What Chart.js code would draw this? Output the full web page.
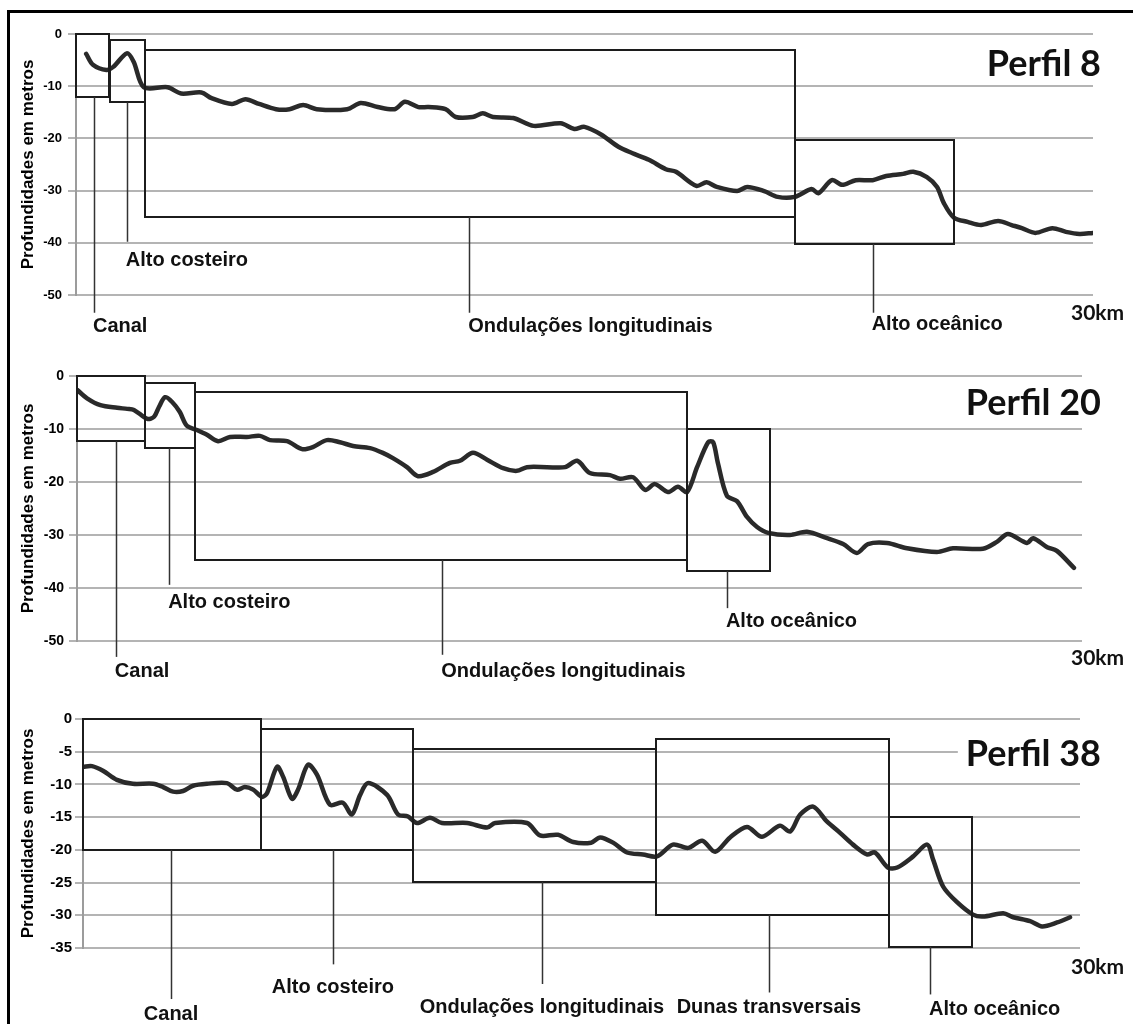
<!DOCTYPE html>
<html><head><meta charset="utf-8">
<script src="https://cdn.jsdelivr.net/npm/chart.js@4.4.0/dist/chart.umd.min.js"></script>
<style>
html,body{margin:0;padding:0;background:#fff;}
#wrap{position:relative;width:1133px;height:1024px;overflow:hidden;background:#fff;}
#frame{position:absolute;left:7px;top:10px;width:1140px;height:1040px;border-top:3px solid #000;border-left:3px solid #000;}
canvas{position:absolute;left:0;}
</style></head><body>
<div id="wrap">
<div id="frame"></div>
<canvas id="c8" width="1133" height="345" style="top:0px"></canvas>
<canvas id="c20" width="1133" height="350" style="top:340px"></canvas>
<canvas id="c38" width="1133" height="344" style="top:680px"></canvas>
</div>
<script>
// ---------- Perfil 8 ----------
const perfil8Km = [0.3,0.5,0.9,1.1,1.5,1.7,2.0,2.7,3.1,3.7,4.0,4.6,5.0,5.4,5.9,6.3,6.7,7.1,8.0,8.4,8.9,9.4,9.7,10.1,10.4,10.9,11.2,11.7,12.0,12.3,12.9,13.5,14.3,14.7,15.0,15.5,16.0,16.4,16.9,17.4,17.7,18.3,18.6,18.9,19.5,19.8,20.3,20.7,21.2,21.7,21.9,22.3,22.6,23.0,23.5,23.9,24.4,24.7,25.1,25.4,25.6,25.9,26.3,26.7,27.2,27.6,27.9,28.3,28.8,29.2,29.6,30.0];
const perfil8Depth = [-3.8,-5.9,-6.9,-6.3,-3.7,-5.3,-10.2,-10.2,-11.4,-11.2,-12.3,-13.4,-12.5,-13.4,-14.4,-14.4,-13.6,-14.4,-14.4,-13.2,-14.0,-14.4,-13.0,-14.0,-14.0,-14.4,-15.9,-15.9,-15.2,-15.9,-16.1,-17.6,-17.1,-18.2,-17.8,-19.3,-21.6,-22.8,-24.1,-25.9,-26.4,-29.1,-28.4,-29.3,-30.1,-29.3,-30.1,-31.2,-31.2,-29.7,-30.5,-28.0,-28.9,-28.0,-28.0,-27.2,-26.8,-26.4,-27.4,-29.3,-32.4,-35.2,-36.0,-36.6,-35.8,-36.6,-37.2,-38.1,-37.2,-37.9,-38.3,-38.1];
const perfil8Regions = ['Canal','Alto costeiro','Ondulações longitudinais','Alto oceânico'];
const perfil8BoxStart = [0, 1.0, 2.04, 21.2];
const perfil8BoxEnd = [0.97, 2.04, 21.2, 25.9];
const perfil8BoxTop = [0, -1.1, -3.1, -20.3];
const perfil8BoxBottom = [-12.1, -13.1, -35.0, -40.2];
const perfil8LeaderKm = [0.53, 1.5, 11.6, 23.5];
const perfil8LeaderEnd = [-53.4, -39.8, -53.4, -53.4];
const perfil8LabelDepth = [-56.1, -43.3, -56.1, -55.7];
const perfil8Ticks = [0,-10,-20,-30,-40,-50];

// ---------- Perfil 20 ----------
const perfil20Km = [0.0,0.3,0.7,1.2,1.5,1.7,2.1,2.3,2.45,2.63,2.84,3.07,3.28,3.58,3.88,4.21,4.57,5.07,5.46,5.76,6.27,6.72,7.04,7.46,7.85,8.24,8.75,9.13,9.43,9.85,10.18,10.63,11.13,11.43,11.82,12.24,12.72,13.13,13.43,14.03,14.57,14.93,15.31,15.91,16.21,16.6,16.96,17.25,17.64,17.94,18.21,18.51,18.84,18.99,19.13,19.4,19.7,20.0,20.3,20.63,21.28,21.79,22.39,22.87,23.28,23.61,24.18,24.78,25.67,26.15,27.04,27.46,27.79,28.36,28.54,28.96,29.25,29.76];
const perfil20Depth = [-2.6,-4.2,-5.5,-6.0,-6.2,-6.4,-8.1,-7.7,-5.8,-4.0,-4.9,-6.8,-9.4,-10.2,-11.1,-12.3,-11.5,-11.5,-11.3,-12.1,-12.3,-13.8,-13.4,-12.1,-12.5,-13.2,-13.6,-14.5,-15.5,-17.2,-18.9,-18.1,-16.4,-16.0,-14.5,-15.8,-17.4,-17.9,-17.2,-17.2,-17.2,-16.0,-18.3,-18.7,-19.4,-19.1,-21.5,-20.4,-21.9,-20.9,-21.9,-17.2,-12.5,-12.5,-16.4,-22.6,-23.6,-26.6,-28.5,-29.6,-30.0,-29.4,-30.6,-31.7,-33.4,-31.7,-31.5,-32.5,-33.2,-32.5,-32.6,-31.3,-29.8,-31.5,-30.6,-32.3,-33.0,-36.2];
const perfil20Regions = ['Canal','Alto costeiro','Ondulações longitudinais','Alto oceânico'];
const perfil20BoxStart = [0, 2.03, 3.52, 18.21];
const perfil20BoxEnd = [2.03, 3.52, 18.21, 20.69];
const perfil20BoxTop = [0, -1.3, -3.0, -10.0];
const perfil20BoxBottom = [-12.3, -13.6, -34.7, -36.8];
const perfil20LeaderKm = [1.16, 2.75, 10.9, 19.4];
const perfil20LeaderEnd = [-53.0, -39.4, -52.6, -43.8];
const perfil20LabelDepth = [-55.8, -42.8, -55.8, -46.4];

// ---------- Perfil 38 ----------
const perfil38Km = [0,0.27,0.6,1.02,1.5,2.11,2.41,2.71,3.01,3.31,3.73,4.33,4.63,4.87,5.12,5.39,5.54,5.84,6.02,6.29,6.47,6.77,7.04,7.43,7.82,8.09,8.34,8.58,9.15,9.48,9.78,10.05,10.44,10.8,11.56,12.16,12.4,13.36,13.75,14.29,14.75,15.29,15.56,15.95,16.37,16.85,17.27,17.75,18.21,18.63,19.02,19.47,19.98,20.43,20.97,21.28,21.58,21.97,22.39,22.78,23.17,23.59,23.83,24.22,24.5,24.98,25.4,25.58,25.88,26.3,26.78,27.08,27.69,27.99,28.5,28.86,29.31,29.7];
const perfil38Depth = [-7.3,-7.2,-7.9,-9.3,-9.9,-9.9,-10.4,-11.1,-11.0,-10.2,-9.9,-9.8,-10.8,-10.4,-10.8,-11.9,-11.3,-7.3,-8.8,-12.2,-10.8,-7.0,-8.5,-13.1,-12.8,-14.6,-11.6,-9.8,-11.6,-14.6,-14.9,-15.9,-15.1,-15.9,-15.9,-16.6,-15.9,-15.9,-17.8,-17.7,-18.8,-18.9,-18.1,-18.9,-20.4,-20.7,-21.0,-19.2,-19.7,-18.6,-20.3,-18.1,-16.5,-18.0,-16.3,-17.2,-14.6,-13.4,-15.7,-17.4,-19.2,-20.7,-20.4,-22.7,-22.7,-21.0,-19.2,-21.5,-25.6,-28.0,-29.9,-30.2,-29.7,-30.3,-30.9,-31.7,-31.1,-30.3];
const perfil38Regions = ['Canal','Alto costeiro','Ondulações longitudinais','Dunas transversais','Alto oceânico'];
const perfil38BoxStart = [0, 5.36, 9.93, 17.24, 24.26];
const perfil38BoxEnd = [5.36, 9.93, 17.24, 24.26, 26.75];
const perfil38BoxTop = [0, -1.5, -4.6, -3.0, -15.0];
const perfil38BoxBottom = [-20, -20, -24.9, -29.9, -34.8];
const perfil38LeaderKm = [2.65, 7.52, 13.81, 20.64, 25.49];
const perfil38LeaderEnd = [-42.8, -37.5, -40.5, -41.8, -42.1];
const perfil38LabelDepth = [-45.1, -41.0, -44.1, -44.1, -44.4];

const axisTitle = 'Profundidades em metros';
const distanceLabel = '30km';

const annotPlugin = {
  id: 'annot',
  afterDraw(chart, args, o) {
    const {ctx, scales: {x, y}} = chart;
    ctx.save();
    // boxes
    ctx.strokeStyle = '#1c1c1c';
    ctx.lineWidth = 2;
    for (let i = 0; i < o.start.length; i++) {
      const x0 = Math.round(x.getPixelForValue(o.start[i]));
      const x1 = Math.round(x.getPixelForValue(o.end[i]));
      const y0 = Math.round(y.getPixelForValue(o.top[i]));
      const y1 = Math.round(y.getPixelForValue(o.bottom[i]));
      ctx.strokeRect(x0, y0, x1 - x0, y1 - y0);
    }
    // leaders
    ctx.strokeStyle = '#333';
    ctx.lineWidth = 1.5;
    for (let i = 0; i < o.leaderKm.length; i++) {
      const lx = Math.round(x.getPixelForValue(o.leaderKm[i])) + 0.5;
      ctx.beginPath();
      ctx.moveTo(lx, y.getPixelForValue(o.bottom[i]));
      ctx.lineTo(lx, y.getPixelForValue(o.leaderEnd[i]));
      ctx.stroke();
    }
    // labels
    ctx.fillStyle = '#111';
    ctx.font = 'bold 20px "Liberation Sans", Arial, sans-serif';
    ctx.textBaseline = 'middle';
    for (let i = 0; i < o.names.length; i++) {
      ctx.textAlign = o.align[i];
      ctx.fillText(o.names[i], x.getPixelForValue(o.leaderKm[i]) + (o.align[i] === 'left' ? -1 : 0), y.getPixelForValue(o.labelDepth[i]));
    }
    // title
    ctx.font = 'bold 36px Lato, "Open Sans", sans-serif';
    ctx.textAlign = 'right';
    const tw = ctx.measureText(o.title).width;
    const ty = y.getPixelForValue(o.titleDepth);
    ctx.fillStyle = '#fff';
    ctx.fillRect(chart.width - 32 - tw - 8, ty - 20, tw + 8, 40);
    ctx.fillStyle = '#111';
    ctx.fillText(o.title, chart.width - 32, ty + 1);
    // distance label
    ctx.font = 'bold 21px Lato, "Open Sans", sans-serif';
    ctx.textAlign = 'left';
    ctx.fillText(distanceLabel, chart.width - 62, chart.chartArea.bottom + o.distOffset);
    ctx.restore();
  }
};

function makePanel(id, km, depth, cfg) {
  const canvas = document.getElementById(id);
  const W = canvas.width, H = canvas.height;
  const pts = km.map((v, i) => ({x: v, y: depth[i]}));
  return new Chart(canvas, {
    type: 'line',
    data: {datasets: [{data: pts, borderColor: '#2a2a2a', borderWidth: 4.5, pointRadius: 0, tension: 0.3, fill: false, borderCapStyle: 'round', borderJoinStyle: 'round'}]},
    options: {
      responsive: false,
      animation: false,
      events: [],
      layout: {padding: {left: 0, top: cfg.area.top, right: W - cfg.area.right, bottom: H - cfg.area.bottom}},
      plugins: {
        legend: {display: false},
        tooltip: {enabled: false},
        annot: cfg.annot
      },
      scales: {
        x: {type: 'linear', min: 0, max: 30, display: false},
        y: {
          min: cfg.yMin, max: 0,
          afterFit(s) { s.width = cfg.area.left; },
          ticks: {stepSize: cfg.step, color: '#000', padding: cfg.tickPad, font: {family: '"Liberation Sans", Arial, sans-serif', weight: 'bold', size: cfg.tickSize}},
          grid: {color: '#b4b4b4', lineWidth: 2, tickLength: 8, drawTicks: true},
          border: {display: true, color: '#9c9c9c', width: 2},
          title: {display: true, text: axisTitle, color: '#000', padding: {top: 18, bottom: 0}, font: {family: '"Liberation Sans", Arial, sans-serif', weight: 'bold', size: 17}}
        }
      }
    },
    plugins: [annotPlugin]
  });
}

makePanel('c8', perfil8Km, perfil8Depth, {
  area: {left: 76, right: 1093, top: 34, bottom: 295}, yMin: -50, step: 10, tickPad: 6, tickSize: 13,
  annot: {start: perfil8BoxStart, end: perfil8BoxEnd, top: perfil8BoxTop, bottom: perfil8BoxBottom,
    leaderKm: perfil8LeaderKm, leaderEnd: perfil8LeaderEnd, labelDepth: perfil8LabelDepth, names: perfil8Regions,
    align: ['left','left','left','left'], title: 'Perfil 8', titleDepth: -5.6, distOffset: 18}
});
makePanel('c20', perfil20Km, perfil20Depth, {
  area: {left: 77, right: 1082, top: 36, bottom: 301}, yMin: -50, step: 10, tickPad: 5, tickSize: 14,
  annot: {start: perfil20BoxStart, end: perfil20BoxEnd, top: perfil20BoxTop, bottom: perfil20BoxBottom,
    leaderKm: perfil20LeaderKm, leaderEnd: perfil20LeaderEnd, labelDepth: perfil20LabelDepth, names: perfil20Regions,
    align: ['left','left','left','left'], title: 'Perfil 20', titleDepth: -4.9, distOffset: 17}
});
makePanel('c38', perfil38Km, perfil38Depth, {
  area: {left: 83, right: 1080, top: 39, bottom: 268}, yMin: -35, step: 5, tickPad: 3, tickSize: 15,
  annot: {start: perfil38BoxStart, end: perfil38BoxEnd, top: perfil38BoxTop, bottom: perfil38BoxBottom,
    leaderKm: perfil38LeaderKm, leaderEnd: perfil38LeaderEnd, labelDepth: perfil38LabelDepth, names: perfil38Regions,
    align: ['center','center','center','center','left'], title: 'Perfil 38', titleDepth: -5.2, distOffset: 19}
});
</script>
</body></html>
